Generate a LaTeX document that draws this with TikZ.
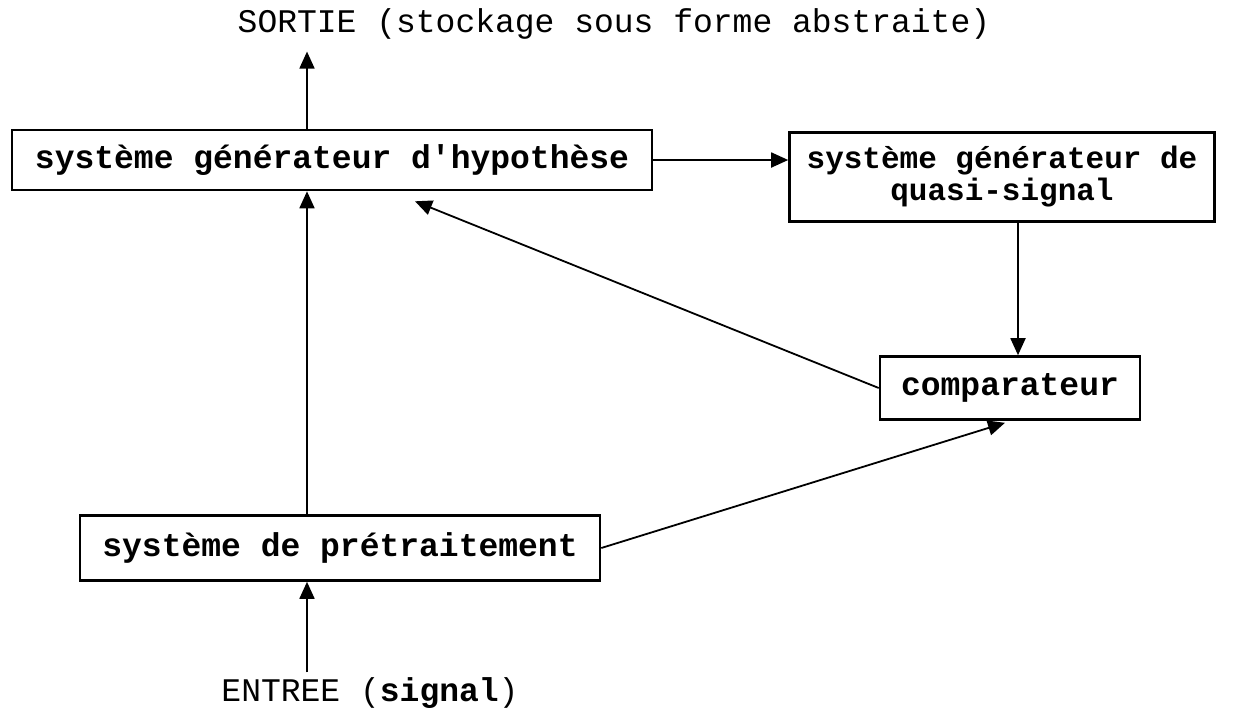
\documentclass[tikz,border=0pt]{standalone}
\usepackage{fontspec}
\setmonofont{Liberation Mono}
\usetikzlibrary{arrows.meta}
\begin{document}
\begin{tikzpicture}[x=1pt,y=-1pt,
  txt/.style={font=\fontsize{33}{32}\selectfont\ttfamily, inner sep=0pt},
  box/.style={txt, font=\fontsize{33}{32}\selectfont\ttfamily\bfseries, draw, line width=2.6pt, align=center},
  arr/.style={line width=1.8pt, -{Triangle[length=17pt,width=15pt]}}
]
\fill[white] (0,0) rectangle (1248,713);
\useasboundingbox (0,0) rectangle (1248,713);

\node[box, minimum width=640pt, minimum height=60pt] (hyp) at (332,160) {système générateur d'hypothèse};
\node[box, font=\fontsize{31}{32}\selectfont\ttfamily\bfseries, minimum width=425pt, minimum height=89pt] (quasi) at (1002,177) {système générateur de\\quasi-signal};
\node[box, minimum width=260pt, minimum height=63pt] (comp) at (1010,388) {comparateur};
\node[box, minimum width=520pt, minimum height=65pt] (pre) at (340,548) {système de prétraitement};

\node[txt] (sortie) at (614,24) {SORTIE (stockage sous forme abstraite)};
\node[txt] (entree) at (370,693) {ENTREE (\textbf{signal})};

\draw[arr] ([xshift=-25pt]hyp.north) -- ([xshift=-25pt,yshift=-12pt]hyp.north |- sortie.south);
\draw[arr] ([xshift=-33pt]pre.north) -- ([xshift=-25pt]hyp.south);
\draw[arr] ([xshift=-33pt,yshift=5pt]pre.south |- entree.north) -- ([xshift=-33pt]pre.south);
\draw[arr] (hyp.east) -- (quasi.west |- hyp.east);
\draw[arr] ([xshift=16pt]quasi.south) -- ([xshift=8pt]comp.north);
\draw[arr] (comp.west) -- ([xshift=83pt,yshift=-10pt]hyp.south);
\draw[arr] (pre.east) -- ([xshift=-5pt,yshift=-2pt]comp.south);
\end{tikzpicture}
\end{document}
